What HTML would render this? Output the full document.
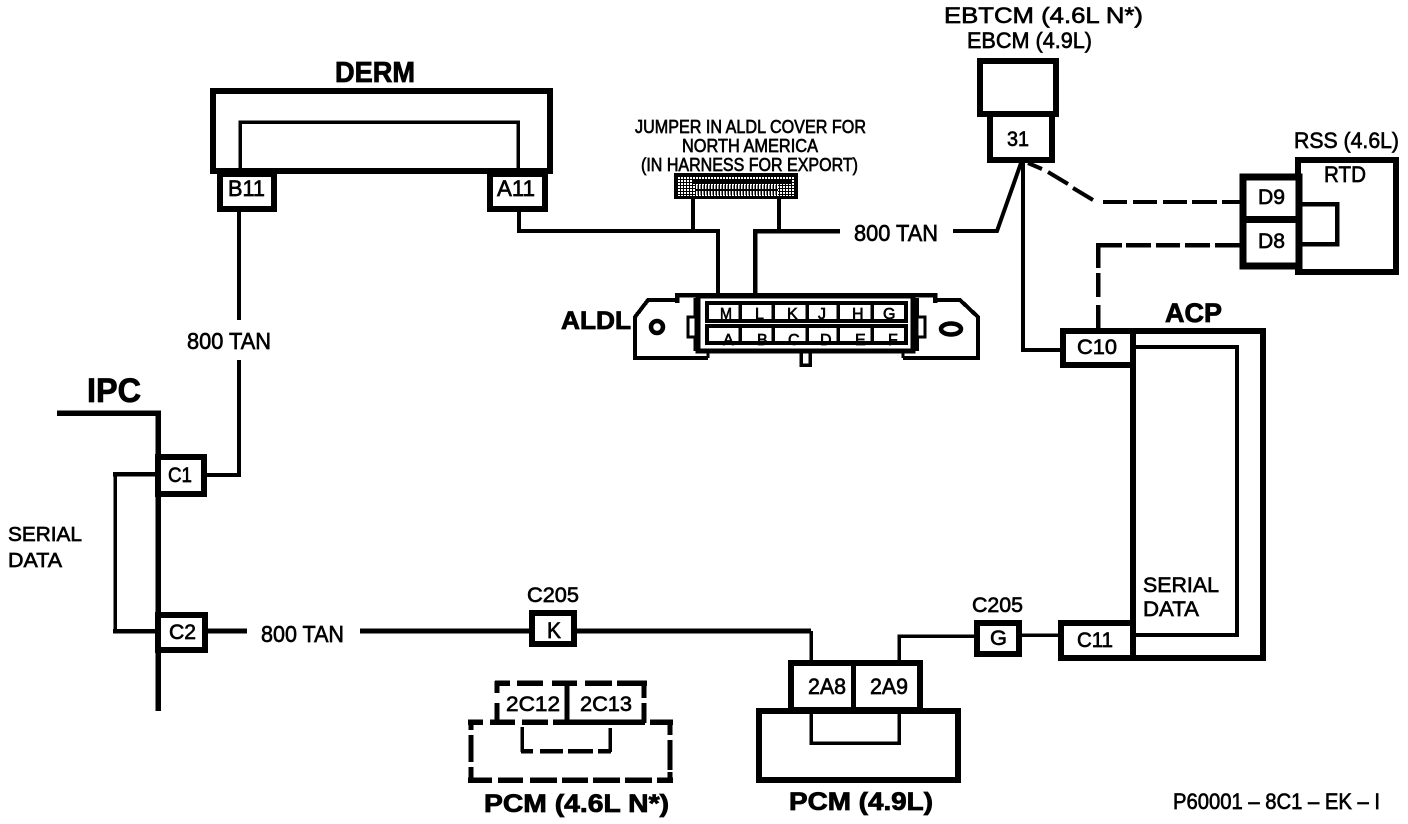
<!DOCTYPE html>
<html><head><meta charset="utf-8"><style>
html,body{margin:0;padding:0;background:#fff;width:1408px;height:824px;overflow:hidden}
svg{display:block}
text{font-family:"Liberation Sans",sans-serif;fill:#000;stroke:#000;stroke-width:.65}
.b{font-weight:bold;stroke-width:.8}
</style></head><body>
<svg width="1408" height="824" viewBox="0 0 1408 824" xmlns="http://www.w3.org/2000/svg">
<defs>
<pattern id="ck" width="3" height="3" patternUnits="userSpaceOnUse"><rect width="3" height="3" fill="#000"/><rect width="2" height="2" fill="#fff"/></pattern>
<pattern id="vl" width="3" height="10" patternUnits="userSpaceOnUse"><rect width="3" height="10" fill="#000"/><rect x="0" y="1" width="1.5" height="8" fill="#fff"/></pattern>
</defs>
<g fill="none" stroke="#000" stroke-linejoin="miter" shape-rendering="crispEdges">
<!-- DERM -->
<rect x="213" y="91" width="337" height="80" stroke-width="6"/>
<path d="M240 171V122H518V171" stroke-width="3.5"/>
<rect x="220" y="174" width="54" height="35" stroke-width="6"/>
<rect x="490" y="174" width="55" height="35" stroke-width="6"/>
<path d="M239 212V320M239 360V475H207" stroke-width="4"/>
<path d="M519 212V231H718V293" stroke-width="4"/>
<path d="M755 293V231H840" stroke-width="4.5"/>
<path d="M953 231H997L1021 163" stroke-width="4" shape-rendering="auto"/>
<!-- jumper -->
<path d="M693 199V231M779 199V231" stroke-width="4"/>
<rect x="674" y="173" width="124" height="26" fill="#000" stroke="none"/>
<rect x="678" y="176" width="117" height="20" fill="url(#ck)" stroke="none"/>
<rect x="692" y="179" width="100" height="5" fill="#000" stroke="none"/>
<rect x="696" y="185" width="82" height="10" fill="url(#vl)" stroke="none"/>
<!-- ALDL connector -->
<path d="M677 300H648L635 317V358H708" stroke-width="4"/>
<path d="M935 300H960L978 317V358H903" stroke-width="4"/>
<rect x="698" y="296" width="215" height="55" stroke-width="5"/>
<path d="M677 303V295H935V303" stroke-width="4.5"/>
<path d="M695 298V351M917 298V351" stroke-width="3.5"/>
<rect x="688" y="317" width="8" height="20" fill="#fff" stroke-width="3"/>
<rect x="917" y="317" width="8" height="20" fill="#fff" stroke-width="3"/>
<circle cx="657" cy="327" r="6" stroke-width="4.5" shape-rendering="auto"/>
<ellipse cx="951" cy="329" rx="10" ry="5.5" stroke-width="4.5" shape-rendering="auto"/>
<path d="M708 358V351M903 358V351" stroke-width="3"/>
<path d="M801 352V365H810V352" stroke-width="3.5"/>
</g>
<g font-size="16">
<text x="720" y="319" textLength="12" lengthAdjust="spacingAndGlyphs">M</text><text x="755" y="319">L</text><text x="787" y="319">K</text><text x="818" y="319">J</text><text x="852" y="319">H</text><text x="883" y="319">G</text>
<text x="723" y="345">A</text><text x="757" y="345">B</text><text x="788" y="345">C</text><text x="820" y="345">D</text><text x="855" y="345">E</text><text x="888" y="345">F</text>
</g>
<g fill="none" stroke="#000" shape-rendering="crispEdges">
<rect x="707" y="303" width="199" height="18" stroke-width="4"/>
<rect x="707" y="326" width="199" height="17" stroke-width="4"/>
<path d="M740 303V321M773 303V321M807 303V321M838 303V321M872 303V321M740 326V343M773 326V343M807 326V343M838 326V343M872 326V343" stroke-width="3.5"/>
<!-- EBCM -->
<rect x="980" y="61" width="76" height="53" stroke-width="6"/>
<rect x="990" y="114" width="62" height="46" stroke-width="6"/>
<path d="M1023 163V350H1060" stroke-width="4"/>
<path d="M1028 163L1042 169M1048 172L1068 184M1073 188L1093 200" stroke-width="4" shape-rendering="auto"/>
<path d="M1103 202H1127M1133 202H1157M1163 202H1187M1192 202H1217M1222 202H1240" stroke-width="4"/>
<path d="M1240 245H1215M1210 245H1185M1180 245H1156M1151 245H1126M1122 245H1098V268M1098 273V297M1098 305V330" stroke-width="4.5"/>
<!-- RSS -->
<rect x="1298" y="160" width="98" height="112" stroke-width="6"/>
<rect x="1243" y="177" width="56" height="89" fill="#fff" stroke-width="7"/>
<path d="M1240 219.5H1302" stroke-width="7"/>
<path d="M1302 204H1337V244H1302" stroke-width="4.5"/>
<!-- ACP -->
<rect x="1133" y="331" width="130" height="327" stroke-width="6"/>
<path d="M1135 347H1237V635H1135" stroke-width="4"/>
<rect x="1063" y="331" width="70" height="34" fill="#fff" stroke-width="6"/>
<rect x="1061" y="623" width="72" height="35" fill="#fff" stroke-width="6"/>
<!-- IPC -->
<path d="M57 413H158V711" stroke-width="5.5"/>
<path d="M115 474V631" stroke-width="3.5"/>
<path d="M113 474H157M113 631H157" stroke-width="4.5"/>
<rect x="158" y="457" width="46" height="37" fill="#fff" stroke-width="6"/>
<rect x="158" y="615" width="47" height="35" fill="#fff" stroke-width="6"/>
<path d="M158 454V653" stroke-width="5.5"/>
<path d="M208 631H247M360 631H529" stroke-width="5"/>
<rect x="532" y="613" width="42" height="31" stroke-width="6"/>
<path d="M577 631H811" stroke-width="5"/>
<path d="M811 631V660" stroke-width="3.5"/>
<!-- PCM 4.9 -->
<rect x="759" y="711" width="199" height="69" stroke-width="6"/>
<rect x="791" y="663" width="129" height="47" fill="#fff" stroke-width="6"/>
<path d="M791 711H920" stroke-width="6"/>
<path d="M853.5 663V710" stroke-width="5"/>
<path d="M811 714V743H899V714" stroke-width="3.5"/>
<path d="M899 660V636H975" stroke-width="3.5"/>
<rect x="977" y="623" width="42" height="31" stroke-width="6"/>
<path d="M1022 635H1058" stroke-width="3.5"/>
<!-- PCM 4.6 dashed -->
<path d="M495 683H510M517 683H543M552 683H577M585 683H612M617 683H647" stroke-width="5.5"/>
<path d="M497 681V693M497 703V720M644 681V698M644 703V723M567 683V723" stroke-width="5"/>
<path d="M468 722H483M490 722H515M522 722H548M553 722H645M650 722H673" stroke-width="5.5"/>
<path d="M471 720V730M471 735V762M471 767V782M670 720V735M670 740V770M670 772V782" stroke-width="5"/>
<path d="M468 780H492M498 780H523M530 780H557M562 780H588M593 780H620M625 780H652M657 780H673" stroke-width="5.5"/>
<path d="M522 727V752M610 728V752" stroke-width="3.5"/>
<path d="M521 751H533M540 751H563M568 751H593M598 751H611" stroke-width="4.5"/>
</g>
<!-- text -->
<text class="b" x="335" y="82" font-size="29" textLength="80" lengthAdjust="spacingAndGlyphs">DERM</text>
<text class="b" x="87" y="402" font-size="34" textLength="54" lengthAdjust="spacingAndGlyphs">IPC</text>
<text class="b" x="561" y="329" font-size="25" textLength="70" lengthAdjust="spacingAndGlyphs">ALDL</text>
<text class="b" x="1165" y="322" font-size="27" textLength="57" lengthAdjust="spacingAndGlyphs">ACP</text>
<text class="b" x="484" y="812" font-size="25" textLength="185" lengthAdjust="spacingAndGlyphs">PCM (4.6L N*)</text>
<text class="b" x="789" y="810" font-size="25" textLength="144" lengthAdjust="spacingAndGlyphs">PCM (4.9L)</text>
<text x="944" y="23" font-size="22.5" textLength="199" lengthAdjust="spacingAndGlyphs">EBTCM (4.6L N*)</text>
<text x="967" y="48" font-size="22.5" textLength="125" lengthAdjust="spacingAndGlyphs">EBCM (4.9L)</text>
<g style="stroke-width:.55">
<text x="635" y="133" font-size="18" textLength="231" lengthAdjust="spacingAndGlyphs">JUMPER IN ALDL COVER FOR</text>
<text x="682" y="152" font-size="18" textLength="136" lengthAdjust="spacingAndGlyphs">NORTH AMERICA</text>
<text x="641" y="171" font-size="18" textLength="217" lengthAdjust="spacingAndGlyphs">(IN HARNESS FOR EXPORT)</text>
</g>
<text x="854" y="241" font-size="23" textLength="84" lengthAdjust="spacingAndGlyphs">800 TAN</text>
<text x="187" y="349" font-size="23" textLength="84" lengthAdjust="spacingAndGlyphs">800 TAN</text>
<text x="261" y="642" font-size="23" textLength="83" lengthAdjust="spacingAndGlyphs">800 TAN</text>
<text x="8" y="541" font-size="20.5" textLength="74" lengthAdjust="spacingAndGlyphs">SERIAL</text>
<text x="8" y="567" font-size="20.5" textLength="54" lengthAdjust="spacingAndGlyphs">DATA</text>
<text x="1143" y="592" font-size="21.5" textLength="76" lengthAdjust="spacingAndGlyphs">SERIAL</text>
<text x="1143" y="616" font-size="21.5" textLength="56" lengthAdjust="spacingAndGlyphs">DATA</text>
<text x="228" y="196" font-size="22" textLength="37" lengthAdjust="spacingAndGlyphs">B11</text>
<text x="497" y="196" font-size="22" textLength="38" lengthAdjust="spacingAndGlyphs">A11</text>
<text x="168" y="482" font-size="21" textLength="24" lengthAdjust="spacingAndGlyphs">C1</text>
<text x="169" y="639" font-size="21" textLength="27" lengthAdjust="spacingAndGlyphs">C2</text>
<text x="527" y="602" font-size="21.5" textLength="52" lengthAdjust="spacingAndGlyphs">C205</text>
<text x="547" y="638" font-size="22" textLength="14" lengthAdjust="spacingAndGlyphs">K</text>
<text x="506" y="711" font-size="21" textLength="54" lengthAdjust="spacingAndGlyphs">2C12</text>
<text x="580" y="711" font-size="21" textLength="52" lengthAdjust="spacingAndGlyphs">2C13</text>
<text x="808" y="694" font-size="22" textLength="38" lengthAdjust="spacingAndGlyphs">2A8</text>
<text x="870" y="694" font-size="22" textLength="38" lengthAdjust="spacingAndGlyphs">2A9</text>
<text x="972" y="612" font-size="21.5" textLength="51" lengthAdjust="spacingAndGlyphs">C205</text>
<text x="990" y="645" font-size="21" textLength="17" lengthAdjust="spacingAndGlyphs">G</text>
<text x="1077" y="647" font-size="21" textLength="36" lengthAdjust="spacingAndGlyphs">C11</text>
<text x="1077" y="354" font-size="21" textLength="40" lengthAdjust="spacingAndGlyphs">C10</text>
<text x="1007" y="146" font-size="21" textLength="22" lengthAdjust="spacingAndGlyphs">31</text>
<text x="1258" y="204" font-size="21" textLength="27" lengthAdjust="spacingAndGlyphs">D9</text>
<text x="1258" y="248" font-size="21" textLength="27" lengthAdjust="spacingAndGlyphs">D8</text>
<text x="1294" y="148" font-size="22.5" textLength="105" lengthAdjust="spacingAndGlyphs">RSS (4.6L)</text>
<text x="1324" y="182" font-size="22" textLength="42" lengthAdjust="spacingAndGlyphs">RTD</text>
<text x="1173" y="809" font-size="22" textLength="207" lengthAdjust="spacingAndGlyphs">P60001 – 8C1 – EK – I</text>
</svg>
</body></html>
